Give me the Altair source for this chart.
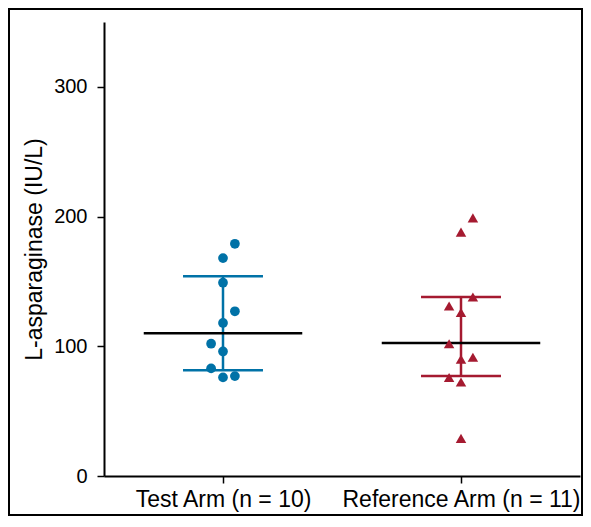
import altair as alt
import pandas as pd

# ---- data ----
categories = ["Test Arm (n = 10)", "Reference Arm (n = 11)"]
test_values = [179, 168, 149, 127, 118, 102, 96, 83, 76, 77]
test_lane = [1, 0, 0, 1, 0, -1, 0, -1, 0, 1]
ref_values = [199, 188, 138, 131, 126, 102, 91.5, 90, 76, 72.5, 29]
ref_lane = [1, 0, 1, -1, 0, -1, 1, 0, -1, 0, 0]
means = [110, 102.5]
upper = [154, 138]
lower = [81.5, 77]
colors = ["#0072a7", "#a51a30"]
shapes = ["circle", "triangle-up"]
sizes = [95, 110]

FONT = "Liberation Sans"
W, H = 476, 454
LANE = 0.05
MEAN_HALF = 0.333
CAP_HALF = 0.168

pts = pd.DataFrame(
    [{"arm": categories[0], "idx": 0, "value": v, "lane": l} for v, l in zip(test_values, test_lane)]
    + [{"arm": categories[1], "idx": 1, "value": v, "lane": l} for v, l in zip(ref_values, ref_lane)]
)
pts["pos"] = pts["idx"] + pts["lane"] * LANE

summ = pd.DataFrame({
    "arm": categories,
    "idx": [0, 1],
    "mean": means,
    "upper": upper,
    "lower": lower,
})
summ["m1"] = summ["idx"] - MEAN_HALF
summ["m2"] = summ["idx"] + MEAN_HALF
summ["c1"] = summ["idx"] - CAP_HALF
summ["c2"] = summ["idx"] + CAP_HALF

label_expr = f"datum.value == 0 ? '{categories[0]}' : '{categories[1]}'"

xscale = alt.Scale(domain=[-0.5, 1.5], nice=False, zero=False)
yscale = alt.Scale(domain=[0, 350], nice=False)
cscale = alt.Scale(domain=categories, range=colors)
sscale = alt.Scale(domain=categories, range=shapes)
zscale = alt.Scale(domain=categories, range=sizes)

x_axis = alt.Axis(
    values=[0, 1], labelExpr=label_expr, title=None, grid=False,
    domainColor="black", domainWidth=2, tickColor="black", tickWidth=1.5, tickSize=7,
    labelFont=FONT, labelFontSize=23, labelColor="black", labelPadding=5, labelLimit=0,
)
y_axis = alt.Axis(
    values=[0, 100, 200, 300], title="L-asparaginase (IU/L)", grid=False,
    domainColor="black", domainWidth=2, tickColor="black", tickWidth=1.5, tickSize=7,
    labelFont=FONT, labelFontSize=20, labelColor="black", labelPadding=10,
    titleFont=FONT, titleFontSize=23, titleFontWeight="normal", titleColor="black",
    titleX=-63, titleY=H / 2, titleAlign="center", titleBaseline="alphabetic", titleAngle=270,
)

base_s = alt.Chart(summ)

vbar = base_s.mark_rule(strokeWidth=2.5).encode(
    x=alt.X("idx:Q", scale=xscale, axis=x_axis),
    y=alt.Y("lower:Q", scale=yscale, axis=y_axis),
    y2="upper:Q",
    color=alt.Color("arm:N", scale=cscale, legend=None),
)
cap_hi = base_s.mark_rule(strokeWidth=2.5).encode(
    x=alt.X("c1:Q", scale=xscale), x2="c2:Q",
    y=alt.Y("upper:Q", scale=yscale),
    color=alt.Color("arm:N", scale=cscale, legend=None),
)
cap_lo = base_s.mark_rule(strokeWidth=2.5).encode(
    x=alt.X("c1:Q", scale=xscale), x2="c2:Q",
    y=alt.Y("lower:Q", scale=yscale),
    color=alt.Color("arm:N", scale=cscale, legend=None),
)
mean_line = base_s.mark_rule(strokeWidth=2.5, color="black").encode(
    x=alt.X("m1:Q", scale=xscale), x2="m2:Q",
    y=alt.Y("mean:Q", scale=yscale),
)
points = alt.Chart(pts).mark_point(filled=True, opacity=1).encode(
    x=alt.X("pos:Q", scale=xscale),
    y=alt.Y("value:Q", scale=yscale),
    color=alt.Color("arm:N", scale=cscale, legend=None),
    shape=alt.Shape("arm:N", scale=sscale, legend=None),
    size=alt.Size("arm:N", scale=zscale, legend=None),
)
frame = alt.Chart(pd.DataFrame({"f": [0]})).mark_rect(
    fillOpacity=0, stroke="black", strokeWidth=2
).encode(
    x=alt.value(-95), x2=alt.value(W + 2),
    y=alt.value(-13), y2=alt.value(H + 39),
)

chart = alt.layer(vbar, cap_hi, cap_lo, mean_line, points, frame).properties(
    width=W, height=H,
    background="white",
    autosize=alt.AutoSizeParams(type="none"),
    padding={"left": 96, "top": 14, "right": 3, "bottom": 40},
).configure_view(stroke=None)

chart.save("out.html", embed_options={"renderer": "svg", "actions": False})
